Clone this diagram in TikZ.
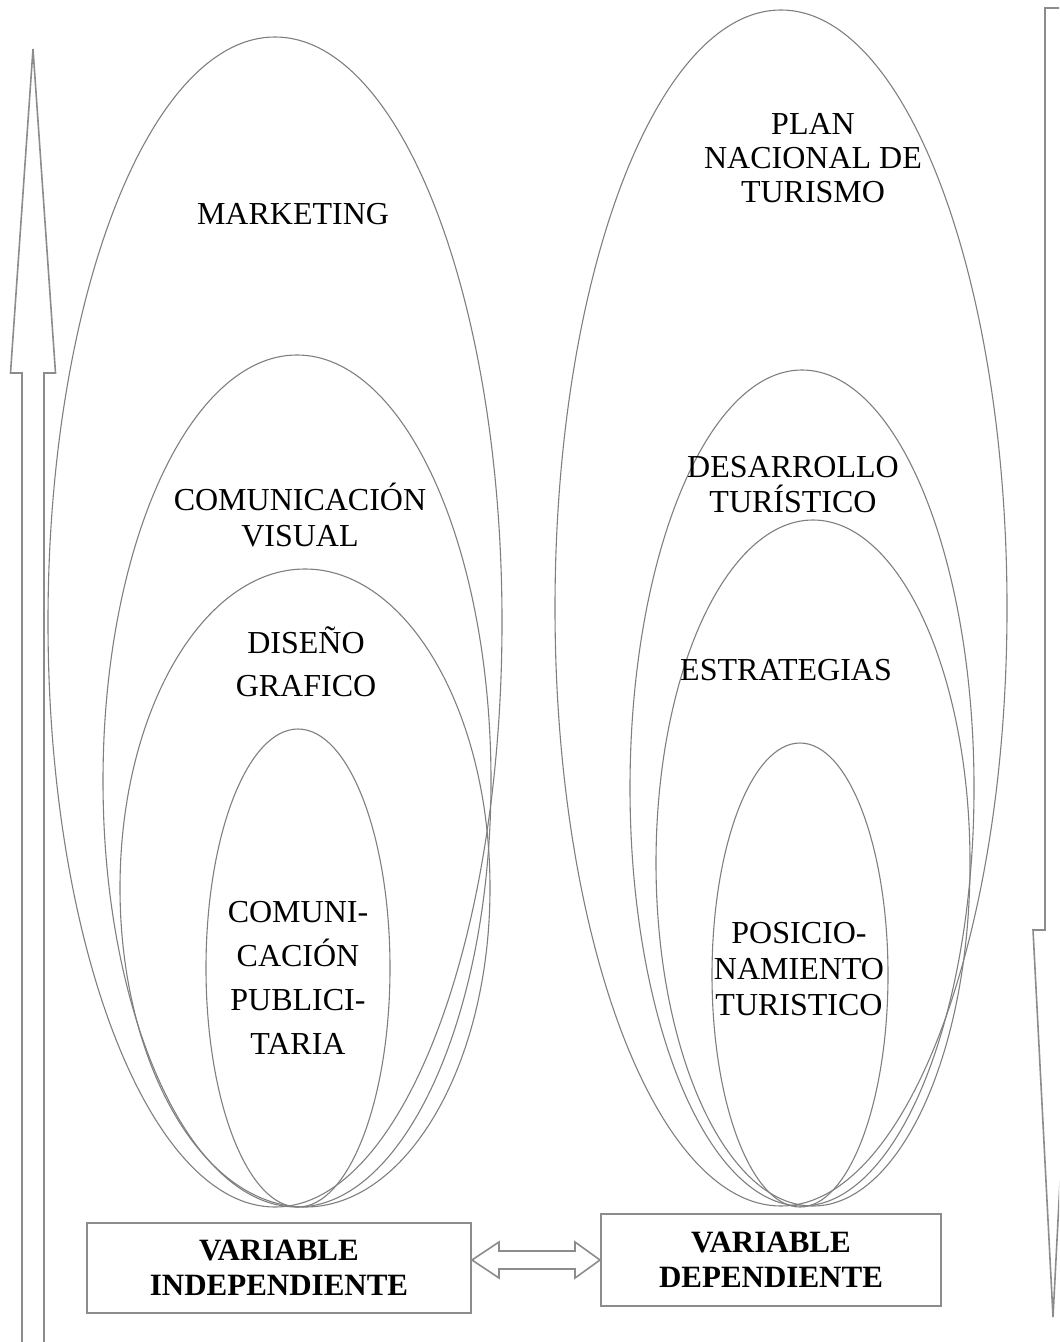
\documentclass[tikz,border=0pt]{standalone}
\usepackage{fontspec}
\setmainfont{Liberation Serif}
\usetikzlibrary{shapes.geometric}
\definecolor{linegray}{HTML}{7F7F7F}
\definecolor{boxgray}{HTML}{8C8C8C}
\begin{document}
\begin{tikzpicture}[x=0.5pt,y=-0.5pt,
  ell/.style={ellipse, draw=linegray, line width=0.55pt, inner sep=0pt},
  lbl/.style={font=\fontsize{16}{17}\selectfont, align=center, inner sep=0pt},
  vbox/.style={draw=boxgray, line width=1pt, inner sep=0pt,
    font=\fontsize{15.5}{17.5}\selectfont\bfseries, align=center},
  bigarrow/.style={draw=boxgray, line width=0.8pt, line join=miter}]
\useasboundingbox (0,0) rectangle (1059,1342);
\clip (0,0) rectangle (1059,1342);

% left group of ellipses
\node[ell, minimum width=227pt, minimum height=585pt] (e1) at (275,622) {};
\node[ell, minimum width=194pt, minimum height=426pt] (e2) at (297,781) {};
\node[ell, minimum width=185pt, minimum height=319pt] (e3) at (305,888) {};
\node[ell, minimum width=92pt, minimum height=239pt] (e4) at (298,968) {};

% right group of ellipses
\node[ell, minimum width=226pt, minimum height=598pt] (f1) at (781,608) {};
\node[ell, minimum width=172pt, minimum height=418pt] (f2) at (802,788) {};
\node[ell, minimum width=157pt, minimum height=343pt] (f3) at (813,863) {};
\node[ell, minimum width=88pt, minimum height=232pt] (f4) at (800,975) {};

% labels
\node[lbl] (tM) at (293,214) {MARKETING};
\node[lbl] (tP) at (813,158) {PLAN\\NACIONAL DE\\TURISMO};
\node[lbl, font=\fontsize{16}{18}\selectfont] (tC) at (300,515) {COMUNICACIÓN\\VISUAL};
\node[lbl, font=\fontsize{16}{21.5}\selectfont] (tD) at (306,662) {DISEÑO\\GRAFICO};
\node[lbl, font=\fontsize{16}{22}\selectfont] (tCP) at (298,978) {COMUNI-\\CACIÓN\\PUBLICI-\\TARIA};
\node[lbl, font=\fontsize{16}{17.5}\selectfont] (tDT) at (793,485) {DESARROLLO\\TURÍSTICO};
\node[lbl] (tE) at (786,670) {ESTRATEGIAS};
\node[lbl, font=\fontsize{16}{18}\selectfont] (tPT) at (799,969) {POSICIO-\\NAMIENTO\\TURISTICO};

% variable boxes
\node[vbox, minimum width=192pt, minimum height=45pt] (b1) at (279,1268) {VARIABLE\\INDEPENDIENTE};
\node[vbox, minimum width=170pt, minimum height=46pt] (b2) at (771,1260) {VARIABLE\\DEPENDIENTE};

% double arrow between the boxes
\draw[bigarrow] (b1.east |- b2.west) -- ++(27,-18) -- ++(0,9)
  -- ([shift={(-25,-9)}]b2.west) -- ++(0,-9) -- (b2.west) -- ++(-25,18) -- ++(0,-9)
  -- ([shift={(27,9)}]b1.east |- b2.west) -- ++(0,9) -- cycle;

% tall upward arrow on the left
\draw[bigarrow] (33,49) -- (55.5,373) -- (44,373) -- (44,1360) -- (22,1360)
  -- (22,373) -- (10.5,373) -- cycle;

% tall downward arrow on the right
\draw[bigarrow] (1045,8) -- (1075,8) -- (1075,930) -- (1073,930) -- (1053,1317)
  -- (1033,930) -- (1045,930) -- cycle;
\end{tikzpicture}
\end{document}
